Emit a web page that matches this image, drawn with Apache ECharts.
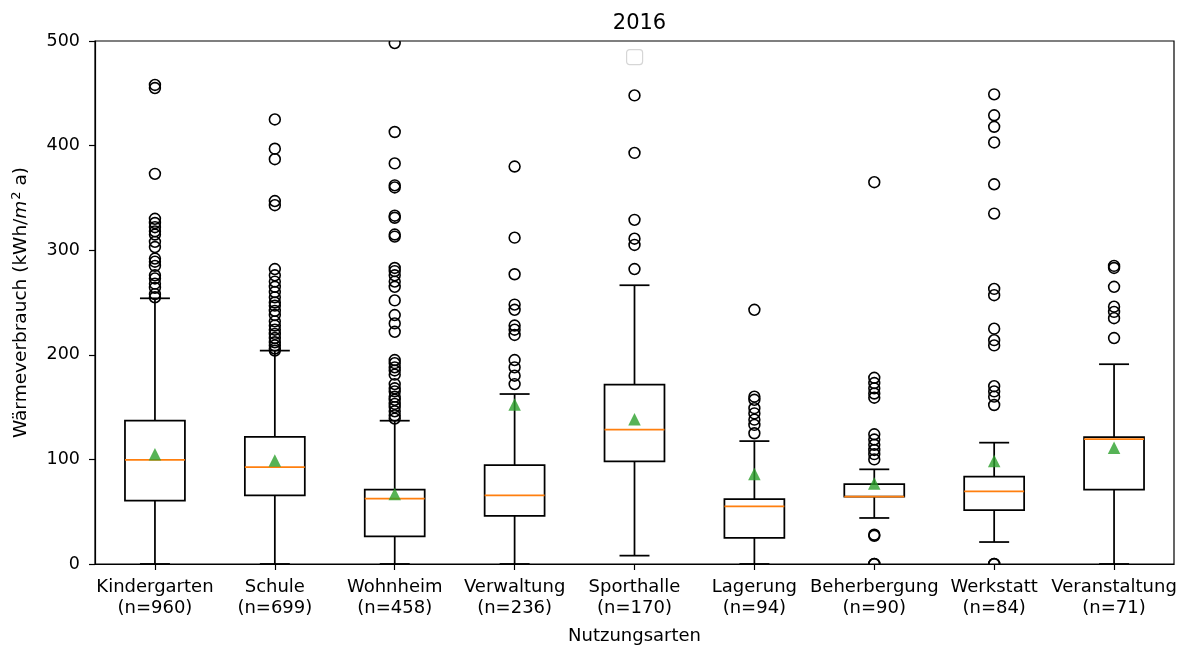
<!DOCTYPE html>
<html>
<head>
<meta charset="utf-8">
<script src="https://cdn.jsdelivr.net/npm/echarts@6/dist/echarts.min.js"></script>
<style>html,body{margin:0;padding:0;background:#fff}#c{width:1184px;height:650px}</style>
</head>
<body>
<div id="c"></div>
<script>
const categories = ['Kindergarten','Schule','Wohnheim','Verwaltung','Sporthalle','Lagerung','Beherbergung','Werkstatt','Veranstaltung'];
const counts = [960, 699, 458, 236, 170, 94, 90, 84, 71];
const whiskerLow  = [0,    0,    0,    0,    8,     0,    44,   21,   0];
const q1          = [60.5, 65.5, 26.5, 46,   98,    25,   64.3, 51.5, 71];
const median      = [99.5, 92.5, 62.5, 65.5, 128.5, 55,   64.3, 69.5, 119.3];
const q3          = [137,  121.5,71,   94.5, 171.5, 62,   76.4, 83.5, 121.4];
const whiskerHigh = [254,  204,  137,  162.5,266.5, 117.5,90.5, 116,  191];
const means       = [105,  99,   67,   152.5,138.5, 86,   77,   98.5, 111.2];
const outliers = [
  [458,455,373,330,326,322,318,315,308,303,292,289,285,276,273,268,264,258,255],
  [425,397,387,347,343,282,276,270,265,260,255,250,247,242,238,232,228,224,220,216,212,209,206,204],
  [498,413,383,362,360,333,331,315,313,283,280,276,270,265,252,238,230,222,195,192,188,185,181,172,168,165,160,157,153,150,146,142,139],
  [380,312,277,248,243,228,224,219,195,188,180,172],
  [448,393,329,311,305,282],
  [243,160,157,149,144,138,133,125],
  [365,178,173,168,163,159,124,119,114,109,105,100,28,27,0,0],
  [449,429,418,403,363,335,263,257,225,214,209,170,165,160,152,0,0],
  [285,283,265,246,241,235,216]
];
const yTicks = [0, 100, 200, 300, 400, 500];
const titleText = '2016';
const xName = 'Nutzungsarten';

const FONT = 'DejaVu Sans';
const boxData = categories.map((c, i) => [i, whiskerLow[i], q1[i], median[i], q3[i], whiskerHigh[i]]);
const outlierData = [];
outliers.forEach((arr, i) => arr.forEach(v => outlierData.push([i, v])));
const meanData = means.map((m, i) => [i, m]);

const chart = echarts.init(document.getElementById('c'), null, {renderer: 'canvas'});
const LW = 1.75;
chart.setOption({
  animation: false,
  backgroundColor: '#fff',
  title: {
    text: titleText, left: 634.5, textAlign: 'center', top: 8,
    textStyle: {fontFamily: FONT, fontSize: 21, fontWeight: 'normal', color: '#000'}
  },
  grid: {left: 95, right: 10, top: 41, bottom: 83, show: true, borderColor: '#000', borderWidth: 1.2, backgroundColor: 'transparent'},
  graphic: [{
    type: 'rect', left: 626, top: 49, z: 10,
    shape: {width: 16, height: 15, r: 3},
    style: {fill: '#fff', stroke: '#d6d6d6', lineWidth: 1.2}
  }],
  xAxis: {
    type: 'category', data: categories, boundaryGap: true,
    name: xName, nameLocation: 'middle', nameGap: 63,
    nameTextStyle: {fontFamily: FONT, fontSize: 18, color: '#000'},
    axisLine: {show: true, lineStyle: {color: '#000', width: 1.2}},
    axisTick: {show: true, alignWithLabel: true, length: 6, lineStyle: {color: '#000', width: 1.2}},
    axisLabel: {
      fontFamily: FONT, fontSize: 18, color: '#000', margin: 13, lineHeight: 21, interval: 0,
      formatter: (v, i) => v + '\n(n=' + counts[i] + ')'
    },
    splitLine: {show: false}
  },
  yAxis: {
    type: 'value', min: yTicks[0], max: yTicks[yTicks.length - 1], interval: yTicks[1] - yTicks[0],
    name: '{n|Wärmeverbrauch (kWh/}{it|m}{sup|2}{n| a)}', nameLocation: 'middle', nameGap: 63,
    nameTextStyle: {
      fontFamily: FONT, fontSize: 18.5, color: '#000',
      rich: {
        n: {fontFamily: FONT, fontSize: 18.5, color: '#000', lineHeight: 22},
        it: {fontFamily: FONT, fontSize: 18.5, color: '#000', fontStyle: 'italic', lineHeight: 22},
        sup: {fontFamily: FONT, fontSize: 13, color: '#000', verticalAlign: 'top', lineHeight: 22, padding: [0, 0, 10, 1]}
      }
    },
    axisLine: {show: true, lineStyle: {color: '#000', width: 1.2}},
    axisTick: {show: true, inside: false, length: 6, lineStyle: {color: '#000', width: 1.2}},
    axisLabel: {fontFamily: FONT, fontSize: 17.5, color: '#000', margin: 15},
    splitLine: {show: false}
  },
  series: [
    {
      type: 'custom', name: 'box', data: boxData, clip: true, z: 2,
      encode: {x: 0, y: [1, 2, 3, 4, 5]},
      renderItem: function (params, api) {
        const idx = api.value(0);
        const w = api.size([1, 0])[0] * 0.5;
        const pLow = api.coord([idx, api.value(1)]);
        const pQ1 = api.coord([idx, api.value(2)]);
        const pMed = api.coord([idx, api.value(3)]);
        const pQ3 = api.coord([idx, api.value(4)]);
        const pHigh = api.coord([idx, api.value(5)]);
        const x = pMed[0];
        const ls = {stroke: '#000', lineWidth: LW, fill: 'none'};
        return {
          type: 'group',
          children: [
            {type: 'rect', shape: {x: x - w / 2, y: pQ3[1], width: w, height: pQ1[1] - pQ3[1]}, style: ls},
            {type: 'line', shape: {x1: x, y1: pQ1[1], x2: x, y2: pLow[1]}, style: ls},
            {type: 'line', shape: {x1: x, y1: pQ3[1], x2: x, y2: pHigh[1]}, style: ls},
            {type: 'line', shape: {x1: x - w / 4, y1: pLow[1], x2: x + w / 4, y2: pLow[1]}, style: ls},
            {type: 'line', shape: {x1: x - w / 4, y1: pHigh[1], x2: x + w / 4, y2: pHigh[1]}, style: ls},
            {type: 'line', shape: {x1: x - w / 2, y1: pMed[1], x2: x + w / 2, y2: pMed[1]}, style: {stroke: '#ff7f0e', lineWidth: LW}}
          ]
        };
      }
    },
    {
      type: 'custom', name: 'outliers', data: outlierData, clip: true, z: 3,
      encode: {x: 0, y: 1},
      renderItem: function (params, api) {
        const p = api.coord([api.value(0), api.value(1)]);
        return {type: 'circle', shape: {cx: p[0], cy: p[1], r: 5.4}, style: {fill: 'none', stroke: '#000', lineWidth: 1.6}};
      }
    },
    {
      type: 'scatter', name: 'mean', data: meanData, z: 4,
      symbol: 'triangle', symbolSize: 12.5,
      itemStyle: {color: '#2ca02c', borderColor: '#2ca02c', borderWidth: 0}
    }
  ]
});
</script>
</body>
</html>
